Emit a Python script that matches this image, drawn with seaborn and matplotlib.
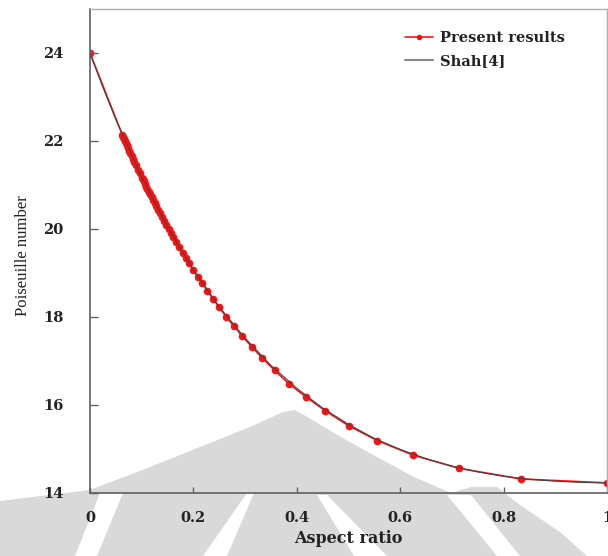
import matplotlib
matplotlib.use('Agg')
import numpy as np
import pandas as pd
import matplotlib.pyplot as plt
import seaborn as sns
from matplotlib.patches import Polygon

# data
present_ratio = [0.0, 0.0625, 0.064, 0.066, 0.068, 0.069, 0.071, 0.074, 0.076, 0.078, 0.081,
                 0.083, 0.086, 0.089, 0.093, 0.096, 0.100, 0.102, 0.104, 0.106, 0.109,
                 0.111, 0.114, 0.116, 0.119, 0.122, 0.125, 0.128, 0.132, 0.135, 0.139,
                 0.143, 0.147, 0.152, 0.156, 0.161, 0.167, 0.172, 0.179, 0.185, 0.192,
                 0.200, 0.208, 0.217, 0.227, 0.238, 0.250, 0.263, 0.278, 0.294, 0.313,
                 0.333, 0.357, 0.385, 0.417, 0.455, 0.500, 0.556, 0.625, 0.714, 0.833, 1.0]
present_po = [24.00, 22.14, 22.10, 22.04, 21.99, 21.96, 21.91, 21.83, 21.78, 21.73, 21.65,
              21.60, 21.52, 21.45, 21.35, 21.27, 21.17, 21.13, 21.08, 21.03, 20.96,
              20.91, 20.84, 20.79, 20.72, 20.65, 20.59, 20.52, 20.43, 20.36, 20.28,
              20.19, 20.10, 20.00, 19.92, 19.81, 19.70, 19.60, 19.46, 19.35, 19.22,
              19.07, 18.92, 18.77, 18.60, 18.41, 18.22, 18.01, 17.80, 17.57, 17.32,
              17.07, 16.79, 16.48, 16.19, 15.87, 15.53, 15.19, 14.86, 14.56, 14.32, 14.23]

shah_ratio = [0.0, 0.025, 0.05, 0.10, 0.15, 0.20, 0.25, 0.30, 0.35, 0.40, 0.45, 0.50,
              0.55, 0.60, 0.65, 0.70, 0.75, 0.80, 0.85, 0.90, 0.95, 1.0]
shah_po = [24.00, 23.22, 22.49, 21.18, 20.05, 19.07, 18.23, 17.52, 16.90, 16.38, 15.93, 15.56,
           15.24, 14.99, 14.78, 14.61, 14.48, 14.38, 14.31, 14.27, 14.24, 14.23]

x_ticks = [0, 0.2, 0.4, 0.6, 0.8, 1.0]
x_tick_labels = ['0', '0.2', '0.4', '0.6', '0.8', '1']
y_ticks = [14, 16, 18, 20, 22, 24]

df_present = pd.DataFrame({'ratio': present_ratio, 'po': present_po})
df_shah = pd.DataFrame({'ratio': shah_ratio, 'po': shah_po})

sns.set_style('ticks')
plt.rcParams['font.family'] = ['DejaVu Serif']

W, H = 608, 556
fig = plt.figure(figsize=(W / 100, H / 100), dpi=100)

# 背景水印 (pixel coords from top-left)
def px(pts):
    return [(x / W, 1 - y / H) for x, y in pts]

wm_color = '#d9d9d9'
gray_shape = [(0, 501), (90, 490), (150, 467), (200, 447), (250, 427), (283, 412),
              (295, 410), (304, 415), (341, 437), (377, 457), (414, 477), (451, 493),
              (471, 487), (497, 487), (520, 505), (560, 532), (587, 556), (0, 556)]
fig.add_artist(Polygon(px(gray_shape), closed=True, color=wm_color, lw=0,
                       transform=fig.transFigure, zorder=-5))
white_bands = [
    [(100, 493), (123, 493), (97, 556), (75, 556)],
    [(247, 493), (254, 493), (227, 556), (203, 556)],
    [(317, 495), (327, 495), (387, 556), (354, 556)],
    [(447, 495), (471, 495), (520, 556), (497, 556)],
]
for band in white_bands:
    fig.add_artist(Polygon(px(band), closed=True, color='white', lw=0,
                           transform=fig.transFigure, zorder=-4))

ax = fig.add_axes([90 / W, 1 - 493 / H, (607 - 90) / W, (493 - 9) / H])
ax.patch.set_alpha(0)

sns.lineplot(data=df_present, x='ratio', y='po', ax=ax, color='#ff1010', lw=1.2,
             marker='o', markersize=5.5, markeredgewidth=0, label='Present results')
sns.lineplot(data=df_shah, x='ratio', y='po', ax=ax, color='#444444', lw=0.8,
             label='Shah[4]')

ax.set_xlim(0, 1)
ax.set_ylim(14, 25)
ax.set_xticks(x_ticks)
ax.set_xticklabels(x_tick_labels)
ax.set_yticks(y_ticks)
ax.tick_params(axis='y', direction='in', length=6, width=1, color='#606060', pad=19,
               labelsize=10.5)
ax.tick_params(axis='x', direction='in', length=4, width=1, color='#606060', pad=13,
               labelsize=10.5)
for lab in ax.get_xticklabels() + ax.get_yticklabels():
    lab.set_fontweight('bold')
    lab.set_color('#222222')

for side in ['left', 'bottom']:
    ax.spines[side].set_color('#606060')
    ax.spines[side].set_linewidth(1.2)
for side in ['top', 'right']:
    ax.spines[side].set_visible(True)
    ax.spines[side].set_color('#b0b0b0')
    ax.spines[side].set_linewidth(1)

ax.set_xlabel('Aspect ratio', fontsize=11.5, fontweight='bold', color='#222222')
ax.xaxis.set_label_coords(0.5, -0.076)
ax.set_ylabel('Poiseuille number', fontsize=12, family='Liberation Serif', color='#222222')
ax.yaxis.set_label_coords(-0.114, 0.49)

leg = ax.legend(loc='upper left', bbox_to_anchor=((405 - 90) / 517, (493 - 31) / 484),
                frameon=False, borderaxespad=0, borderpad=0, handlelength=1.9,
                handletextpad=0.5, labelspacing=0.65,
                prop={'family': 'DejaVu Serif', 'weight': 'bold', 'size': 10.5})
for t in leg.get_texts():
    t.set_color('#222222')
leg.get_lines()[0].set_markersize(4)
leg.get_lines()[1].set_color('#888888')
leg.get_lines()[1].set_linewidth(1.5)

plt.savefig('out.png', dpi=100)
